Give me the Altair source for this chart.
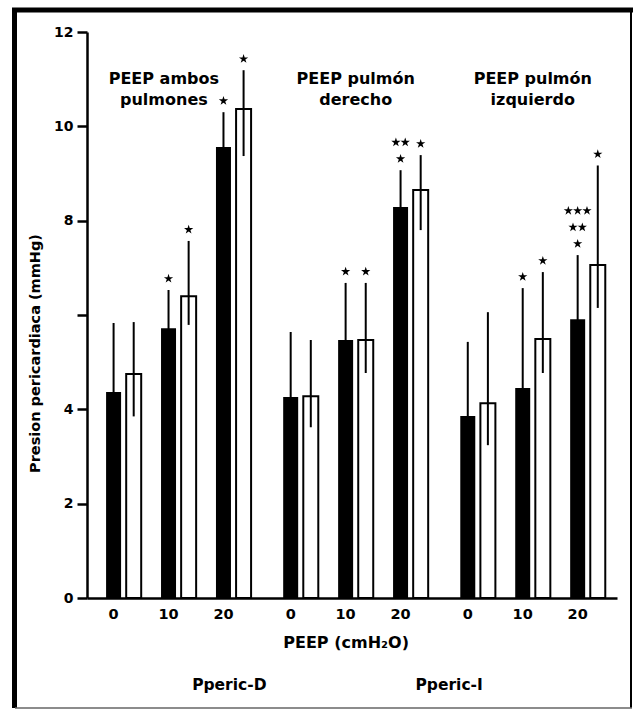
import altair as alt
import pandas as pd

# ---------------- data ----------------
groups = ["PEEP ambos pulmones", "PEEP pulmón derecho", "PEEP pulmón izquierdo"]
group_text = ["PEEP ambos\npulmones", "PEEP pulmón\nderecho", "PEEP pulmón\nizquierdo"]
peep_levels = [0, 10, 20]
series = ["Pperic-D", "Pperic-I"]

# order: group 1 (0,10,20), group 2 (0,10,20), group 3 (0,10,20)
mean_D = [4.37, 5.72, 9.56, 4.26, 5.47, 8.29, 3.86, 4.45, 5.91]
sd_D = [1.46, 0.81, 0.74, 1.38, 1.21, 0.78, 1.57, 2.12, 1.36]
mean_I = [4.75, 6.40, 10.37, 4.28, 5.47, 8.65, 4.13, 5.49, 7.06]
sd_I_up = [1.10, 1.17, 0.82, 1.19, 1.21, 0.74, 1.93, 1.42, 2.11]
sd_I_low = [0.90, 0.61, 1.00, 0.66, 0.70, 0.85, 0.89, 0.72, 0.91]

# significance marks: stars per row, from the bar upward
sig_D = [[], [1], [1], [], [1], [1, 2], [], [1], [1, 2, 3]]
sig_I = [[], [1], [1], [], [1], [1], [], [1], [1]]

y_ticks = [0, 2, 4, 6, 8, 10, 12]
x_title = "PEEP (cmH₂O)"

# ---------------- layout constants ----------------
W, H = 530, 566
FIRST, PAIR, PITCH, GROUP = 22, 20.5, 56, 180.5
BAR_W = 15
LABEL_DX = [-15, 0, 0]
LEGEND_X = [140, 364]
XTITLE_X = 259
FONT = "DejaVu Sans"
STAR = ("M0,-1L0.2245,-0.309L0.951,-0.309L0.363,0.118L0.588,0.809L0,0.382"
        "L-0.588,0.809L-0.363,0.118L-0.951,-0.309L-0.2245,-0.309Z")

rows = []
stars = []
for gi, g in enumerate(groups):
    for pi, p in enumerate(peep_levels):
        i = gi * 3 + pi
        for si, s in enumerate(series):
            if si == 0:
                m, up, lo, sig = mean_D[i], sd_D[i], sd_D[i], sig_D[i]
            else:
                m, up, lo, sig = mean_I[i], sd_I_up[i], sd_I_low[i], sig_I[i]
            rows.append(dict(group=g, peep=str(p), series=s, gi=gi, pi=pi, si=si,
                             mean=m, hi=m + up, lo=m - lo))
            for r, n in enumerate(sig):
                for k in range(n):
                    stars.append(dict(gi=gi, pi=pi, si=si, errtop=m + up, r=r, k=k, n=n))

df = pd.DataFrame(rows)
df_stars = pd.DataFrame(stars)
df_groups = pd.DataFrame(dict(gi=list(range(3)), label=group_text, dx=LABEL_DX))
df_legend = pd.DataFrame(dict(t=series, pos=LEGEND_X))
df_xtitle = pd.DataFrame(dict(t=[x_title], pos=[XTITLE_X]))

pos_expr = f"{FIRST} + datum.gi*{GROUP} + datum.pi*{PITCH} + datum.si*{PAIR}"

xscale = alt.Scale(domain=[0, W], zero=False, nice=False)
yscale = alt.Scale(domain=[0, 12], nice=False)

x_axis = alt.Axis(labels=False, ticks=False, title=None, grid=False,
                  domainColor="black", domainWidth=2.5, orient="bottom")
y_axis = alt.Axis(values=y_ticks, grid=False, title="Presion pericardiaca (mmHg)",
                  labelExpr="datum.value == 6 ? '' : datum.label",
                  tickSize=10, tickWidth=2.5, tickColor="black",
                  domainColor="black", domainWidth=2.5,
                  labelFont=FONT, labelFontSize=14, labelFontWeight="bold",
                  labelColor="black", labelPadding=4,
                  titleFont=FONT, titleFontSize=14.5, titleFontWeight="bold",
                  titleColor="black", titleAngle=270, titleX=-52, titleY=321,
                  titleAlign="center", titleBaseline="middle", orient="left")


def X():
    return alt.X("pos:Q", scale=xscale, axis=x_axis)


def Y(field):
    return alt.Y(field, scale=yscale, axis=y_axis)


base = alt.Chart(df).transform_calculate(pos=pos_expr)

bars_D = base.transform_filter("datum.si == 0").mark_bar(
    width=BAR_W, color="black", orient="vertical"
).encode(x=X(), y=Y("mean:Q"), y2=alt.datum(0))

bars_I = base.transform_filter("datum.si == 1").mark_bar(
    width=BAR_W, fill="white", stroke="black", strokeWidth=2, orient="vertical"
).encode(x=X(), y=Y("mean:Q"), y2=alt.datum(0))

errs = base.mark_rule(color="black", strokeWidth=2).encode(
    x=X(), y=Y("lo:Q"), y2="hi:Q")

star_pts = alt.Chart(df_stars).transform_calculate(
    pos=pos_expr + " + (datum.k - (datum.n - 1) / 2) * 9.5",
    sy="datum.errtop + 0.24 + datum.r * 0.35",
).mark_point(shape=STAR, filled=True, color="black", size=95, opacity=1).encode(
    x=X(), y=Y("sy:Q"))

tick_labels = base.transform_filter("datum.si == 0").mark_text(
    font=FONT, fontSize=14.5, fontWeight="bold", color="black", baseline="alphabetic"
).encode(x=X(), y=alt.value(H + 21), text="peep:N")

group_labels = alt.Chart(df_groups).transform_calculate(
    pos=f"{FIRST} + datum.gi*{GROUP} + {PITCH} + {PAIR}/2 + datum.dx"
).mark_text(font=FONT, fontSize=16, fontWeight="bold", color="black",
            baseline="alphabetic", lineBreak="\n", lineHeight=21, align="center").encode(
    x=X(), y=alt.value(52), text="label:N")

xtitle = alt.Chart(df_xtitle).mark_text(
    font=FONT, fontSize=16, fontWeight="bold", color="black", baseline="alphabetic"
).encode(x=X(), y=alt.value(616), text="t:N")

legend_txt = alt.Chart(df_legend).mark_text(
    font=FONT, fontSize=15.5, fontWeight="bold", color="black", baseline="alphabetic"
).encode(x=X(), y=alt.value(658), text="t:N")

frame_df = pd.DataFrame({"k": [0]})
frame_left = alt.Chart(frame_df).mark_rule(color="black", strokeWidth=5).encode(
    x=alt.value(-72.5), y=alt.value(-24), y2=alt.value(676))
frame_top = alt.Chart(frame_df).mark_rule(color="black", strokeWidth=5).encode(
    x=alt.value(-75), x2=alt.value(546), y=alt.value(-22))
frame_right = alt.Chart(frame_df).mark_rule(color="black", strokeWidth=2).encode(
    x=alt.value(544), y=alt.value(-24), y2=alt.value(676))
frame_bottom = alt.Chart(frame_df).mark_rule(color="#666666", strokeWidth=1.5).encode(
    x=alt.value(-72), x2=alt.value(545), y=alt.value(676))

chart = alt.layer(
    bars_D, bars_I, errs, star_pts, tick_labels, group_labels, xtitle, legend_txt,
    frame_left, frame_top, frame_right, frame_bottom
).properties(
    width=W, height=H,
    autosize=alt.AutoSizeParams(type="none"),
    padding={"left": 87, "top": 32, "right": 16, "bottom": 115},
    background="white",
).configure_view(stroke=None)

chart.save("out.html", embed_options={"renderer": "svg", "actions": False})
